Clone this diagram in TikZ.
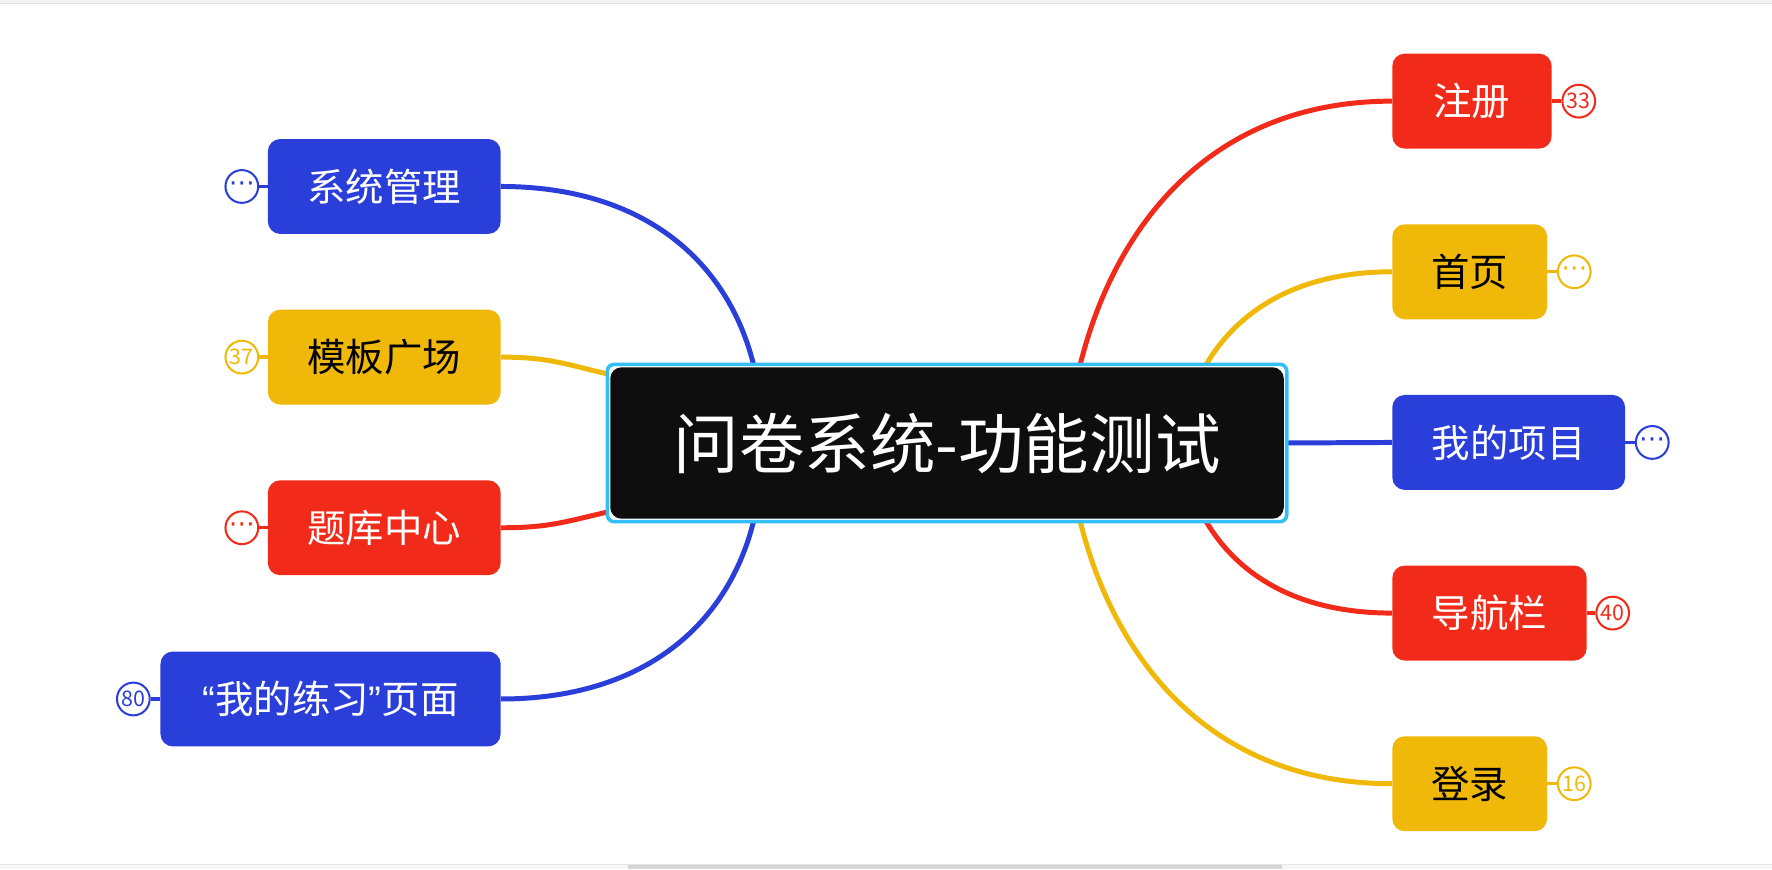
\documentclass[tikz,border=0pt]{standalone}
\usepackage{fontspec}
\setmainfont{Noto Sans CJK SC}
\newfontfamily\dejavu{DejaVu Sans}
\newfontfamily\latinq{Liberation Sans}
\newcommand\mydots{{\dejavu\fontsize{23}{23}\selectfont ⋯}}
\usetikzlibrary{calc}
\definecolor{mblue}{HTML}{2A3FDA}
\definecolor{mred}{HTML}{F22A19}
\definecolor{myel}{HTML}{F0B808}
\definecolor{mblack}{HTML}{0E0E0E}
\definecolor{mcyan}{HTML}{33BEF7}
\pgfdeclarelayer{bg}
\pgfdeclarelayer{mid}
\pgfsetlayers{bg,mid,main}
\begin{document}
\begin{tikzpicture}[x=1pt,y=-1pt,
  topic/.style={rectangle, rounded corners=11pt, minimum height=84pt, inner sep=0pt, font=\fontsize{34}{40}\selectfont},
  bluetopic/.style={topic, fill=mblue, text=white},
  redtopic/.style={topic, fill=mred, text=white},
  yeltopic/.style={topic, fill=myel, text=black},
  roottopic/.style={rectangle, rounded corners=10pt, fill=mblack, text=white, minimum width=596pt, minimum height=134pt, inner sep=0pt, font=\fontsize{58}{64}\selectfont},
  badge/.style={circle, draw=#1, line width=1.8pt, fill=white, text=#1, minimum size=29pt, inner sep=0pt, font=\fontsize{19}{19}\selectfont},
  link/.style={line width=4.4pt, draw=#1},
  stub/.style={line width=3pt, draw=#1},
]
\useasboundingbox (0,0) rectangle (1568,769);
% browser chrome
\fill[gray!10] (0,0) rectangle (1568,3);
\draw[gray!25, line width=0.6pt] (0,3) -- (1568,3);
\fill[gray!6] (0,765) rectangle (1568,769);
\draw[gray!20, line width=0.6pt] (0,765) -- (1568,765);
\fill[gray!32] (556,765.5) rectangle (1134,769);

% nodes
\node[roottopic] (root) at (838,392) {问卷系统-功能测试};

\node[bluetopic, minimum width=206pt] (sys) at (340,165) {系统管理};
\node[yeltopic, minimum width=206pt] (tpl) at (340,316) {模板广场};
\node[redtopic, minimum width=206pt] (bank) at (340,467) {题库中心};
\node[bluetopic, minimum width=301pt] (prac) at (292.5,618.5) {{\latinq “}我的练习{\latinq ”}页面};

\node[redtopic, minimum width=141pt] (reg) at (1302.5,89.5) {注册};
\node[yeltopic, minimum width=137pt] (home) at (1300.5,240.5) {首页};
\node[bluetopic, minimum width=206pt] (proj) at (1335,391.5) {我的项目};
\node[redtopic, minimum width=172pt] (nav) at (1318,542.5) {导航栏};
\node[yeltopic, minimum width=137pt] (login) at (1300.5,693.5) {登录};

% badges
\node[badge=mblue] (b1) at (214,165) {\mydots};
\node[badge=myel] (b2) at (214,316) {37};
\node[badge=mred] (b3) at (214,467) {\mydots};
\node[badge=mblue] (b4) at (118,618.5) {80};
\node[badge=mred] (b5) at (1397,89.5) {33};
\node[badge=myel] (b6) at (1393,240.5) {\mydots};
\node[badge=mblue] (b7) at (1462,391.5) {\mydots};
\node[badge=mred] (b8) at (1427,542.5) {40};
\node[badge=myel] (b9) at (1393,693.5) {16};

% frame of the root
\begin{pgfonlayer}{mid}
\draw[mcyan, fill=white, line width=3.2pt, rounded corners=6pt]
  ($(root.north west)+(-2.4,-2.4)$) rectangle ($(root.south east)+(2.4,2.4)$);
\end{pgfonlayer}

% connectors
\begin{pgfonlayer}{bg}
\draw[link=mblue] ($(root.north west)+(128,2)$) .. controls +(-22,-95) and +(127,0) .. (sys.east);
\draw[link=myel] ($(root.north west)+(6,8)$) .. controls +(-45,-10) and +(45,0) .. (tpl.east);
\draw[link=mred] ($(root.south west)+(6,-8)$) .. controls +(-45,10) and +(45,0) .. (bank.east);
\draw[link=mblue] ($(root.south west)+(128,-2)$) .. controls +(-22,95) and +(127,0) .. (prac.east);
\draw[link=mred] ($(root.north west)+(415,2)$) .. controls +(30,-125) and +(-162,0) .. (reg.west);
\draw[link=myel] ($(root.north west)+(525,2)$) .. controls +(25,-45) and +(-92,0) .. (home.west);
\draw[link=mblue] (root.east) -- (proj.west);
\draw[link=mred] ($(root.south west)+(525,-2)$) .. controls +(25,45) and +(-92,0) .. (nav.west);
\draw[link=myel] ($(root.south west)+(415,-2)$) .. controls +(30,125) and +(-162,0) .. (login.west);

\draw[stub=mblue] (sys.west) -- (b1);
\draw[stub=myel] (tpl.west) -- (b2);
\draw[stub=mred] (bank.west) -- (b3);
\draw[stub=mblue] (prac.west) -- (b4);
\draw[stub=mred] (reg.east) -- (b5);
\draw[stub=myel] (home.east) -- (b6);
\draw[stub=mblue] (proj.east) -- (b7);
\draw[stub=mred] (nav.east) -- (b8);
\draw[stub=myel] (login.east) -- (b9);
\end{pgfonlayer}
\end{tikzpicture}
\end{document}
